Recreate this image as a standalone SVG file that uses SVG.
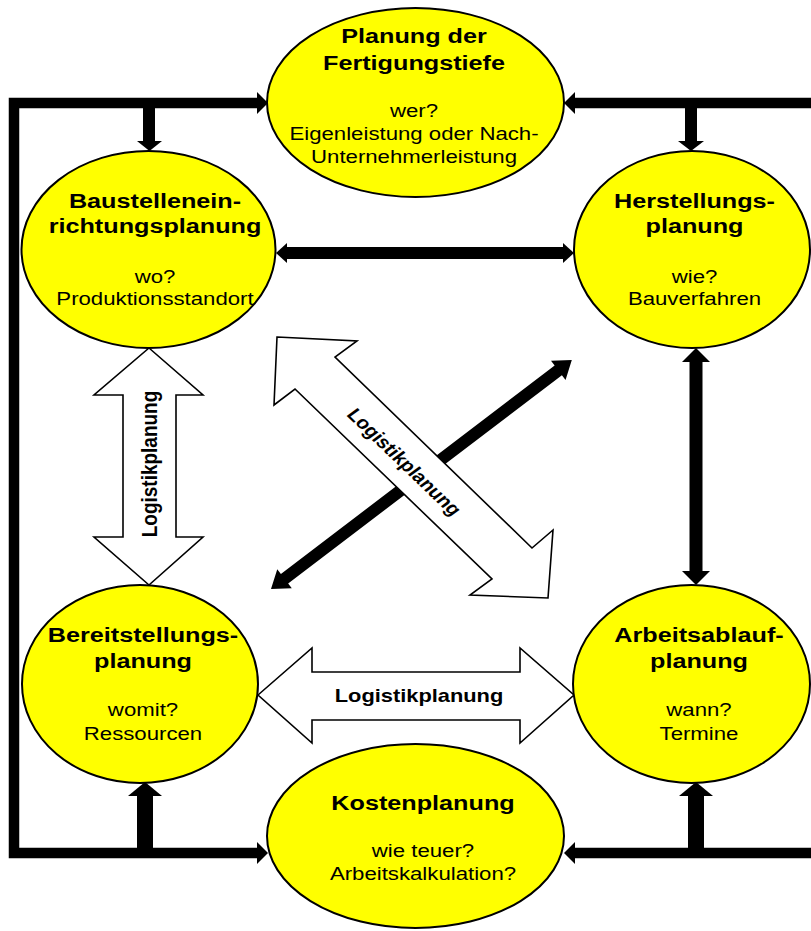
<svg xmlns="http://www.w3.org/2000/svg" width="811" height="931" viewBox="0 0 811 931">
  <style>
    .node { fill: #FFFF00; stroke: #000; stroke-width: 2; }
    .title { font-family: "Liberation Sans", Arial, sans-serif; font-weight: bold; font-size: 21px; text-anchor: middle; fill: #000; }
    .body { font-family: "Liberation Sans", Arial, sans-serif; font-size: 18.5px; text-anchor: middle; fill: #000; }
    .lbl { font-family: "Liberation Sans", Arial, sans-serif; font-weight: bold; font-size: 18.5px; text-anchor: middle; fill: #000; }
    .bar { fill: none; stroke: #000; stroke-width: 10.5; stroke-linejoin: miter; stroke-linecap: butt; }
    .solid { fill: #000; stroke: none; }
    .hollow { fill: #fff; stroke: #000; stroke-width: 1.6; stroke-linejoin: miter; }
  </style>

  <rect width="811" height="931" fill="#fff"/>

  <g id="connectors">
    <!-- outer feedback frame -->
    <path class="bar" d="M 257,103 H 14 V 853 H 257"/>
    <path class="bar" d="M 811,103 H 575"/>
    <path class="bar" d="M 811,853 H 575"/>
    <polygon class="solid" points="257,92 268,103 257,114"/>
    <polygon class="solid" points="575,92 564,103 575,114"/>
    <polygon class="solid" points="257,842 268,853 257,864"/>
    <polygon class="solid" points="575,842 564,853 575,864"/>

    <!-- branches down from the top bar -->
    <rect class="solid" x="143" y="103" width="12" height="38"/>
    <polygon class="solid" points="137,141 162,141 149.5,151"/>
    <rect class="solid" x="685" y="103" width="12" height="38"/>
    <polygon class="solid" points="678,141 704,141 691,151"/>

    <!-- branches up from the bottom bar -->
    <rect class="solid" x="137" y="796" width="16" height="57"/>
    <polygon class="solid" points="128,796 162,796 145,782"/>
    <rect class="solid" x="688" y="796" width="16" height="57"/>
    <polygon class="solid" points="679,796 713,796 696,782"/>

    <!-- Baustelleneinrichtung <-> Herstellung -->
    <rect class="solid" x="287" y="247" width="276" height="12"/>
    <polygon class="solid" points="287,243 276,253 287,263"/>
    <polygon class="solid" points="563,243 574,253 563,263"/>

    <!-- Herstellung <-> Arbeitsablauf -->
    <rect class="solid" x="689.5" y="362" width="13" height="209"/>
    <polygon class="solid" points="682,362 710,362 696,348"/>
    <polygon class="solid" points="682,571 710,571 696,585"/>

    <!-- Bereitstellung <-> Herstellung (diagonal) -->
    <g transform="translate(271,589) rotate(-37.27)">
      <polygon class="solid" points="0,0 17,-12 17,-6 361,-6 361,-12 378,0 361,12 361,6 17,6 17,12"/>
    </g>

    <!-- logistics block arrows -->
    <polygon class="hollow" points="149,348 203,395 176,395 176,537 203,537 149,585 94,537 123,537 123,395 94,395"/>
    <text class="lbl" transform="translate(151,464) scale(1.2,1) rotate(-90)" x="0" y="5" style="font-size:19px">Logistikplanung</text>

    <polygon class="hollow" points="258,695 312,648 312,672 520,672 520,648 574,695 520,743 520,720 312,720 312,743"/>
    <text class="lbl" transform="translate(419,702) scale(1.2,1)" x="0" y="0" style="font-size:18.2px">Logistikplanung</text>

    <polygon class="hollow" points="277,337 357,341 335,357 532,548 553,530 548,598 470,595 492,579 295,389 274,405"/>
    <text class="lbl" transform="translate(403,463) scale(1.2,1) rotate(49)" x="0" y="4.5" style="font-size:17.5px">Logistikplanung</text>
  </g>

  <g id="fertigungstiefe">
    <ellipse class="node" cx="415.5" cy="102.5" rx="148.5" ry="94.5"/>
    <g transform="translate(414,0) scale(1.2,1)">
      <text class="title" x="0" y="43">Planung der</text>
      <text class="title" x="0" y="70">Fertigungstiefe</text>
      <text class="body" x="0" y="117">wer?</text>
      <text class="body" x="0" y="140">Eigenleistung oder Nach-</text>
      <text class="body" x="0" y="163">Unternehmerleistung</text>
    </g>
  </g>

  <g id="baustelleneinrichtung">
    <ellipse class="node" cx="148.5" cy="249.5" rx="127" ry="98.5"/>
    <g transform="translate(155,0) scale(1.2,1)">
      <text class="title" x="0" y="208">Baustellenein-</text>
      <text class="title" x="0" y="233">richtungsplanung</text>
      <text class="body" x="0" y="283">wo?</text>
      <text class="body" x="0" y="305">Produktionsstandort</text>
    </g>
  </g>

  <g id="herstellung">
    <ellipse class="node" cx="692" cy="249.5" rx="118" ry="98.5"/>
    <g transform="translate(694.5,0) scale(1.2,1)">
      <text class="title" x="0" y="208">Herstellungs-</text>
      <text class="title" x="0" y="233">planung</text>
      <text class="body" x="0" y="283">wie?</text>
      <text class="body" x="0" y="305">Bauverfahren</text>
    </g>
  </g>

  <g id="bereitstellung">
    <ellipse class="node" cx="140" cy="684" rx="118" ry="99"/>
    <g transform="translate(143,0) scale(1.2,1)">
      <text class="title" x="0" y="642">Bereitstellungs-</text>
      <text class="title" x="0" y="668">planung</text>
      <text class="body" x="0" y="716">womit?</text>
      <text class="body" x="0" y="740">Ressourcen</text>
    </g>
  </g>

  <g id="arbeitsablauf">
    <ellipse class="node" cx="691.5" cy="684" rx="118.5" ry="99"/>
    <g transform="translate(699,0) scale(1.2,1)">
      <text class="title" x="0" y="642">Arbeitsablauf-</text>
      <text class="title" x="0" y="668">planung</text>
      <text class="body" x="0" y="716">wann?</text>
      <text class="body" x="0" y="740">Termine</text>
    </g>
  </g>

  <g id="kosten">
    <ellipse class="node" cx="415.5" cy="836" rx="148.5" ry="92"/>
    <g transform="translate(423,0) scale(1.2,1)">
      <text class="title" x="0" y="810">Kostenplanung</text>
      <text class="body" x="0" y="857">wie teuer?</text>
      <text class="body" x="0" y="880">Arbeitskalkulation?</text>
    </g>
  </g>
</svg>
